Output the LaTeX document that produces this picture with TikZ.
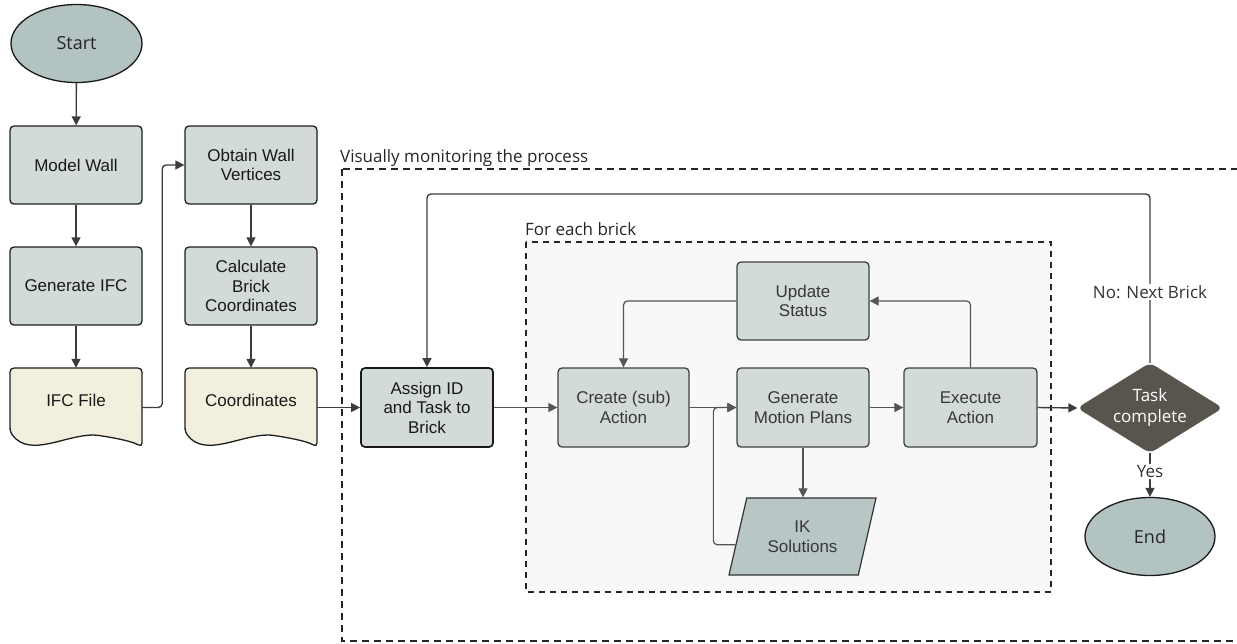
\documentclass[tikz,border=0pt]{standalone}
\usepackage{fontspec}
\setmainfont{Liberation Sans}
\newfontfamily\osans{Open Sans}
\usetikzlibrary{arrows.meta,shapes.geometric,calc}
\definecolor{boxfill}{HTML}{D2DBD7}
\definecolor{ovalfill}{HTML}{B3C3C2}
\definecolor{ikfill}{HTML}{B8C6C5}
\definecolor{docfill}{HTML}{F2EFDF}
\definecolor{diafill}{HTML}{59554C}
\definecolor{mainline}{HTML}{3C3C3C}
\definecolor{innerline}{HTML}{555555}
\definecolor{groupfill}{HTML}{F8F8F8}
\tikzset{
  boxtext/.style={font=\fontsize{17}{19.5}\selectfont},
  proc/.style={draw=black!88, line width=1.3pt, fill=boxfill, rounded corners=4pt,
     minimum width=132pt, minimum height=78pt, align=center, text=black!90, boxtext},
  inproc/.style={proc, draw=black!75, text=black!78},
  oval/.style={ellipse, draw=black!90, line width=1.3pt, fill=ovalfill, minimum width=131pt,
     minimum height=78pt, font=\osans\fontsize{18}{20}\selectfont, text=black!85},
  docnode/.style={minimum width=132pt, minimum height=79pt, align=center, text=black!90, boxtext, text depth=14pt},
  docshape/.style={draw=black!88, line width=1.3pt, fill=docfill, rounded corners=4pt},
  arr/.style={draw=mainline, line width=1.4pt, -{Triangle[length=9pt,width=9pt]}, rounded corners=4pt},
  inarr/.style={draw=innerline, line width=1.2pt, -{Triangle[length=9pt,width=9pt]}, rounded corners=4pt},
  grouplabel/.style={font=\osans\fontsize{17}{19}\selectfont, text=black!85, anchor=base west, inner sep=0pt},
  edgelabel/.style={font=\osans\fontsize{17}{19}\selectfont, text=black!80, fill=white, inner sep=1.5pt},
}
\begin{document}
\begin{tikzpicture}[x=1pt,y=-1pt]
\useasboundingbox (0,0) rectangle (1237,643);
% groups
\draw[black!85, line width=1.8pt, dash pattern=on 7pt off 5pt] (342,169) rectangle (1260,641);
\draw[black!85, line width=1.3pt, dash pattern=on 6pt off 5pt, fill=groupfill] (526,242) rectangle (1051,592);
\node[grouplabel] (lblvis) at (340,162) {Visually monitoring the process};
\node[grouplabel] (lblbrick) at (525,235) {For each brick};
% documents
\draw[docshape] (10,432) -- (10,368) -- (142,368) -- (142,447)
  .. controls (130,440) and (102,436) .. (97,435)
  .. controls (65,435) and (30,458) .. (10,432) -- cycle;
\draw[docshape] (185,432) -- (185,368) -- (317,368) -- (317,447)
  .. controls (305,440) and (277,436) .. (272,435)
  .. controls (240,435) and (205,458) .. (185,432) -- cycle;
% nodes
\node[oval] (start) at (76.5,43.5) {Start};
\node[proc] (mw) at (76,165) {Model Wall};
\node[proc] (gen) at (76,286) {Generate IFC};
\node[docnode] (ifc) at (76,407.5) {IFC File};
\node[proc] (obt) at (251,165) {Obtain Wall\\Vertices};
\node[proc] (calc) at (251,286) {Calculate\\Brick\\Coordinates};
\node[docnode] (coord) at (251,407.5) {Coordinates};
\node[proc, line width=1.7pt, draw=black!90, minimum height=79pt] (assign) at (427,407.5) {Assign ID\\and Task to\\Brick};
\node[inproc, minimum width=131pt, minimum height=79pt] (create) at (623.5,407.5) {Create (sub)\\Action};
\node[inproc] (upd) at (803,301) {Update\\Status};
\node[inproc, minimum height=79pt] (gmp) at (803,407.5) {Generate\\Motion Plans};
\node[inproc, minimum width=133pt, minimum height=79pt] (exe) at (970.5,407.5) {Execute\\Action};
\node[trapezium, trapezium left angle=65, trapezium right angle=115, trapezium stretches body=true,
  minimum width=147pt, minimum height=77pt, fill=ikfill, draw=black!80, line width=1.2pt,
  align=center, text=black!78, boxtext] (ik) at (802.5,536.5) {IK\\Solutions};
\node[diamond, shape aspect=1.7, fill=diafill, draw=diafill, rounded corners=6pt, minimum width=145pt, minimum height=90pt,
  inner sep=0pt, align=center, text=white, font=\osans\fontsize{17}{21}\selectfont] (task) at (1150,408) {Task\\complete};
\node[oval, minimum width=130pt] (end) at (1150,536.5) {End};
\coordinate (loopy) at (0,194);
% connectors
\draw[arr] (start) -- (mw);
\draw[arr] (mw) -- (gen);
\draw[arr] (gen) -- (ifc);
\draw[arr] (ifc.east) -- ++(20,0) |- (obt.west);
\draw[arr] (obt) -- (calc);
\draw[arr] (calc) -- (coord);
\draw[arr] (coord.east) -- (assign.west);
\draw[arr, draw=innerline] (assign.east) -- (create.west);
\draw[inarr] (create.east) -- (gmp.west);
\draw[inarr] (gmp.south) -- (gmp.south |- ik.north);
\draw[inarr] (ik.187) -| ([xshift=-23pt]gmp.west) -- (gmp.west);
\draw[inarr] (gmp.east) -- (exe.west);
\draw[inarr] (exe.north) |- (upd.east);
\draw[inarr] (upd.west) -| (create.north);
\draw[arr] (exe.east) -- (task.west);
\draw[arr] (task.north) |- node[edgelabel, pos=0.21] {No: Next Brick} (assign.north |- loopy) -- (assign.north);
\draw[arr] (task.south) -- node[edgelabel, pos=0.42] {Yes} (end.north);
\end{tikzpicture}
\end{document}
